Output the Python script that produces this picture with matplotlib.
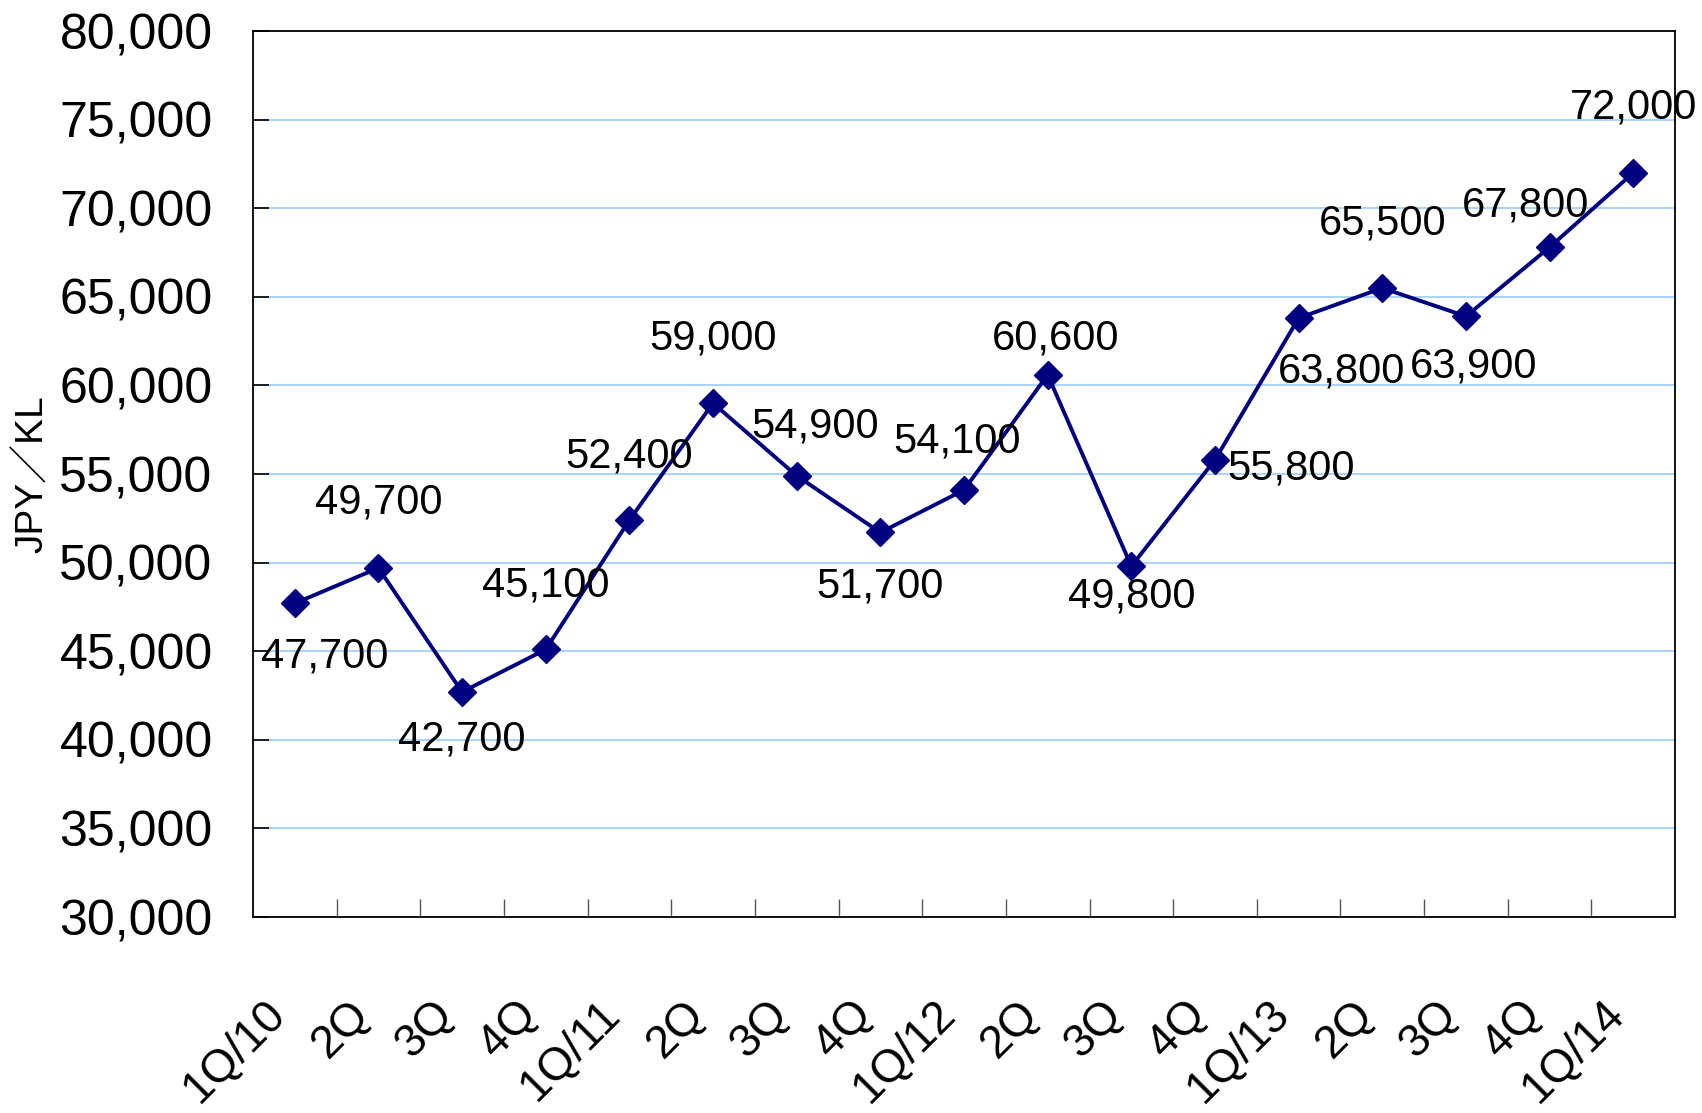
import matplotlib
matplotlib.use('Agg')
import matplotlib.pyplot as plt
import numpy as np

quarters = ['1Q/10', '2Q', '3Q', '4Q', '1Q/11', '2Q', '3Q', '4Q', '1Q/12',
            '2Q', '3Q', '4Q', '1Q/13', '2Q', '3Q', '4Q', '1Q/14']
price = [47700, 49700, 42700, 45100, 52400, 59000, 54900, 51700, 54100,
         60600, 49800, 55800, 63800, 65500, 63900, 67800, 72000]

# where each value label sits relative to its point (pixels)
label_offsets = [(30, -53), (0, 65), (0, -48), (0, 64), (0, 64), (0, 65),
                 (18, 49), (0, -54), (-7, 48), (8, 36), (0, -30), (76, -9),
                 (43, -53), (0, 64), (8, -50), (-24, 42), (0, 65)]

plt.rcParams['font.family'] = ['Liberation Sans', 'Noto Sans CJK JP', 'DejaVu Sans']

fig = plt.figure(figsize=(17.02, 11.13), dpi=100)
ax = fig.add_axes([0.1486, 0.1761, 0.8356, 0.796])

x = np.arange(len(price))
ax.plot(x, price, color='#000080', linewidth=2.8, marker='D', markersize=14,
        zorder=3)

for xi, v, (dx, dy) in zip(x, price, label_offsets):
    ax.annotate(f'{v:,}', (xi, v), xytext=(dx, dy), textcoords='offset pixels',
                ha='center', va='center', fontsize=30, color='black', zorder=4)

ax.set_xlim(-0.5, len(price) - 0.5)
ax.set_ylim(30000, 80000)
ax.set_yticks(np.arange(30000, 80001, 5000))
ax.set_yticklabels([f'{t:,}' for t in range(30000, 80001, 5000)])
ax.yaxis.grid(True, color='#99ccff', linewidth=1.2)
ax.set_axisbelow(True)

ax.set_xticks(x)
ax.set_xticklabels(quarters, rotation=45, ha='right')
ax.set_xticks(np.arange(0.5, len(price) - 1, 1), minor=True)
ax.tick_params(axis='x', which='major', length=0, pad=54, labelsize=33)
ax.tick_params(axis='x', which='minor', direction='in', length=13, width=1,
               color='#555555')
ax.tick_params(axis='y', direction='in', length=11.5, width=1.2, pad=29,
               labelsize=36)

for s in ax.spines.values():
    s.set_linewidth(1.3)
    s.set_color('black')

ax.set_ylabel('JPY／KL', fontsize=28, labelpad=6)

fig.savefig('out.png', dpi=100)
